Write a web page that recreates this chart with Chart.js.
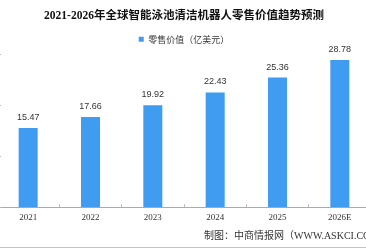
<!DOCTYPE html>
<html>
<head>
<meta charset="utf-8">
<script src="https://cdn.jsdelivr.net/npm/chart.js@4/dist/chart.umd.min.js"></script>
<style>
  html, body { margin: 0; padding: 0; background: #fff; overflow: hidden; }
  body { width: 366px; height: 248px; position: relative; }
  #wrap { position: absolute; left: -3px; top: 0; width: 374px; height: 248px; }
  #source {
    position: absolute; left: 204px; top: 227px; white-space: nowrap;
    font: 10px "Liberation Serif", "Noto Sans CJK SC", serif; color: #333;
  }
  #frame { position: absolute; left: 0; top: 247px; width: 366px; height: 1px; background: #c4c4c4; }
</style>
</head>
<body>
<div id="wrap"><canvas id="chart"></canvas></div>
<div id="source">制图：中商情报网（WWW.ASKCI.COM）</div>
<div id="frame"></div>
<script>
const years = ["2021", "2022", "2023", "2024", "2025", "2026E"];
const retailValue = [15.47, 17.66, 19.92, 22.43, 25.36, 28.78];
const yTicks = [0, 10, 20, 30];
const seriesName = "零售价值（亿美元）";
const titleText = "2021-2026年全球智能泳池清洁机器人零售价值趋势预测";
const barColor = "#3f9cf1";

// value labels above each bar
const valueLabels = {
  id: "valueLabels",
  afterDatasetsDraw(chart) {
    const ctx = chart.ctx;
    const meta = chart.getDatasetMeta(0);
    ctx.save();
    ctx.font = "9px 'Liberation Sans', sans-serif";
    ctx.fillStyle = "#333";
    ctx.textAlign = "center";
    ctx.textBaseline = "bottom";
    meta.data.forEach((bar, i) => {
      ctx.fillText(retailValue[i].toFixed(2), bar.x, bar.y - 6);
    });
    ctx.restore();
  },
};

// small inward tick marks on the hidden value axis
const yTickMarks = {
  id: "yTickMarks",
  afterDraw(chart) {
    const ctx = chart.ctx;
    const y = chart.scales.y;
    const left = chart.chartArea.left;
    ctx.save();
    ctx.strokeStyle = "#bbb";
    ctx.lineWidth = 1;
    yTicks.forEach((v) => {
      const py = Math.round(y.getPixelForValue(v)) + 0.5;
      ctx.beginPath();
      ctx.moveTo(left, py);
      ctx.lineTo(left + 4, py);
      ctx.stroke();
    });
    ctx.restore();
  },
};

new Chart(document.querySelector("#chart"), {
  type: "bar",
  data: {
    labels: years,
    datasets: [
      {
        label: seriesName,
        data: retailValue,
        backgroundColor: barColor,
        categoryPercentage: 1,
        barPercentage: 0.305,
      },
    ],
  },
  options: {
    responsive: true,
    maintainAspectRatio: false,
    animation: false,
    layout: { padding: { top: 0, left: 0, right: 0, bottom: 17 } },
    plugins: {
      title: {
        display: true,
        text: titleText,
        color: "#111",
        font: { family: "'Liberation Serif', 'Noto Sans CJK SC', serif", size: 11.5, weight: "bold" },
        padding: { top: 9, bottom: 3 },
      },
      legend: {
        position: "top",
        labels: {
          boxWidth: 5,
          boxHeight: 5,
          color: "#333",
          padding: 9,
          font: { family: "'Noto Sans CJK SC', sans-serif", size: 9 },
        },
      },
      tooltip: { enabled: false },
    },
    scales: {
      x: {
        grid: { offset: true, drawOnChartArea: false, tickLength: -3, color: "#bbb" },
        border: { display: true, color: "#aaa" },
        ticks: {
          color: "#333",
          padding: 8,
          font: { family: "'Liberation Serif', serif", size: 9 },
        },
      },
      y: {
        display: false,
        min: 0,
        max: 30,
      },
    },
  },
  plugins: [valueLabels, yTickMarks],
});
</script>
</body>
</html>
